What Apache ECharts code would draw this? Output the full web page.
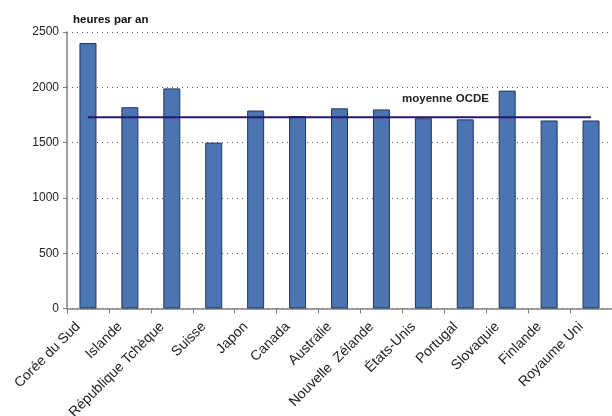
<!DOCTYPE html>
<html><head><meta charset="utf-8">
<script src="https://cdn.jsdelivr.net/npm/echarts@6/dist/echarts.min.js"></script>
<style>html,body{margin:0;padding:0;background:#fff}#c{width:612px;height:416px}</style>
</head><body><div id="c"></div>
<script>
const categories = ["Corée du Sud","Islande","République Tchèque","Suisse","Japon","Canada","Australie","Nouvelle  Zélande","États-Unis","Portugal","Slovaquie","Finlande","Royaume Uni"];
const hours = [2400,1820,1990,1500,1790,1740,1810,1800,1720,1710,1970,1700,1700];
const oecdAverage = 1730;
const yTicks = {min:0, max:2500, interval:500};
const unitLabel = "heures par an";
const avgLabel = "moyenne OCDE";

const FONT = 'Liberation Sans, Arial, sans-serif';
const chart = echarts.init(document.getElementById('c'), null, {renderer:'canvas'});
chart.setOption({
  animation:false,
  backgroundColor:'#fff',
  textStyle:{fontFamily:FONT},
  grid:{left:67, right:0, top:32, bottom:107.5, containLabel:false, outerBoundsMode:'none'},
  graphic:[
    {type:'text', left:73, top:14, style:{text:unitLabel, font:'bold 11.5px '+FONT, fill:'#111'}},
    {type:'text', left:402, top:93, style:{text:avgLabel, font:'bold 11.5px '+FONT, fill:'#222'}}
  ],
  xAxis:{
    type:'category', data:categories,
    axisLine:{lineStyle:{color:'#808080', width:1.5}},
    axisTick:{show:true, alignWithLabel:false, length:5, lineStyle:{color:'#808080'}},
    axisLabel:{rotate:45, interval:0, fontSize:14, color:'#222', margin:16, verticalAlign:'bottom', padding:[0,7,0,0]},
    splitLine:{show:false}
  },
  yAxis:{
    type:'value', min:yTicks.min, max:yTicks.max, interval:yTicks.interval,
    axisLine:{show:true, lineStyle:{color:'#808080', width:1.5}},
    axisTick:{show:true, length:4, lineStyle:{color:'#808080'}},
    axisLabel:{fontSize:12, color:'#222', margin:8, formatter:(v)=>String(v)},
    splitLine:{show:true, lineStyle:{color:'#555', type:[1,4], width:1}}
  },
  series:[
    {type:'bar', data:hours, barWidth:17,
     itemStyle:{color:'#4a74b2', borderColor:'#243656', borderWidth:1},
     z:2},
    {type:'line', data:categories.map(()=>oecdAverage), symbol:'none',
     lineStyle:{color:'#27176b', width:2}, z:3}
  ]
});
</script></body></html>
